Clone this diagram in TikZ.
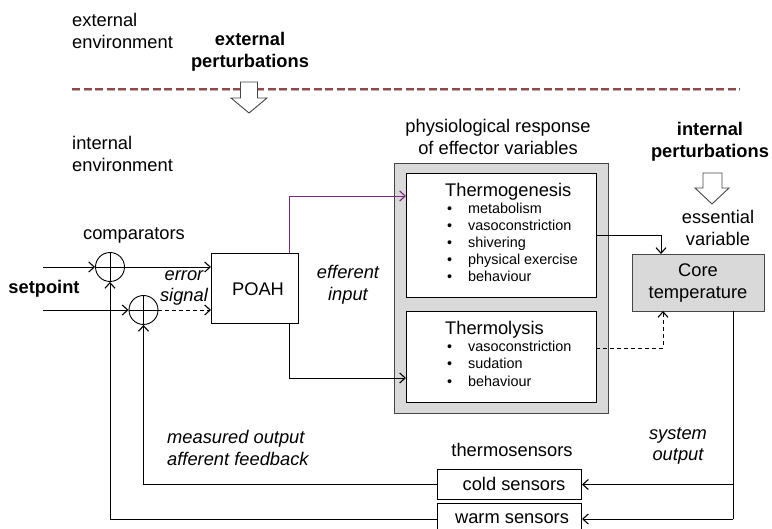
\documentclass[tikz,border=0pt]{standalone}
\usepackage{fontspec}
\setmainfont{Liberation Sans}
\usetikzlibrary{arrows.meta}
\definecolor{boxgray}{RGB}{217,217,217}
\definecolor{dashred}{RGB}{150,70,70}
\definecolor{purp}{RGB}{120,40,125}
\definecolor{edgegray}{RGB}{70,70,70}
\tikzset{
  txt/.style={font=\fontsize{18.3}{21.5}\selectfont, inner sep=0pt, align=center},
  btxt/.style={txt, font=\fontsize{18.3}{21.5}\selectfont\bfseries},
  itxt/.style={txt, font=\fontsize{18.3}{21.5}\selectfont\itshape},
  item/.style={font=\fontsize{14.4}{17}\selectfont, inner sep=0pt, anchor=west, text height=10pt, text depth=3pt},
  whitebox/.style={draw=black, line width=1.2pt, fill=white, anchor=north west, inner sep=0pt},
  graybox/.style={draw=edgegray, line width=1.2pt, fill=boxgray, anchor=north west, inner sep=0pt},
  comp/.style={circle, draw=black, line width=0.9pt, minimum size=29pt, inner sep=0pt},
  conn/.style={line width=0.9pt, -{Straight Barb[length=5.5pt,width=10pt,line width=1.1pt]}},
  plain/.style={line width=0.9pt},
  dashconn/.style={conn, dash pattern=on 4pt off 3pt},
  blockarrow/.style={draw=edgegray, fill=white, line width=0.9pt, line join=miter}
}
\begin{document}
\begin{tikzpicture}[x=1pt,y=-1pt]
\useasboundingbox (0,0) rectangle (772,529);
\clip (0,0) rectangle (772,529);

% top texts
\node[txt, anchor=west, align=left] (extenv) at (72,31) {external\\environment};
\node[btxt] (extpert) at (250,52) {external\\perturbations};
\node[txt, anchor=west, align=left] (intenv) at (72,154) {internal\\environment};

% dashed boundary
\coordinate (dl) at (72,89);
\coordinate (dr) at (740,89);
\draw[gray!60, line width=1.2pt, dash pattern=on 8pt off 3.5pt] ([yshift=-1.6pt]dl) -- ([yshift=-1.6pt]dr);
\draw[dashred, line width=1.3pt, dash pattern=on 8pt off 3.5pt] (dl) -- (dr);

% external perturbation arrow
\draw[blockarrow] (240.5,82) -- (257.5,82) -- (257.5,98) -- (267,98) -- (249,113) -- (231,98) -- (240.5,98) -- cycle;

% internal perturbations
\node[btxt] (intpert) at (710,142) {internal\\perturbations};
\draw[blockarrow] (703,173) -- (722,173) -- (722,188) -- (729,188) -- (712,204) -- (695,188) -- (703,188) -- cycle;
\node[txt] (essvar) at (718,228) {essential\\variable};

% physiological response
\node[txt] (physresp) at (498,137) {physiological response\\of effector variables};
\node[graybox, minimum width=214pt, minimum height=250pt] (outer) at (394,163) {};
\node[whitebox, minimum width=190pt, minimum height=124pt] (tg) at (406,173) {};
\node[whitebox, minimum width=190pt, minimum height=91pt] (tl) at (406,311) {};
\node[txt, anchor=west] (tgtitle) at (445,192) {Thermogenesis};
\foreach \t [count=\i] in {metabolism, vasoconstriction, shivering, physical exercise, behaviour}
  \node[item] (tgi\i) at (447,210+17*\i-17) {\makebox[21pt][l]{•}\t};
\node[txt, anchor=west] (tltitle) at (445,330) {Thermolysis};
\foreach \t [count=\i] in {vasoconstriction, sudation, behaviour}
  \node[item] (tli\i) at (447,348+17.5*\i-17.5) {\makebox[21pt][l]{•}\t};

% core temperature
\node[graybox, minimum width=132pt, minimum height=57pt] (core) at (632,254) {};
\node[txt] (coretxt) at (698,283) {Core\\temperature};

% comparators
\node[txt] (comparators) at (134,235) {comparators};
\node[comp] (c1) at (110,267) {};
\node[comp] (c2) at (143.5,310) {};
\draw[line width=0.9pt] (c1.north) -- (c1.south) (c1.west) -- (c1.east);
\draw[line width=0.9pt] (c2.north) -- (c2.south) (c2.west) -- (c2.east);
\node[btxt] (setpoint) at (44,289) {setpoint};
\coordinate (in1) at (43,267);
\coordinate (in2) at (43,310);
\draw[conn] (in1) -- (c1.west);
\draw[conn] (in2) -- (c2.west);

% POAH
\node[whitebox, minimum width=87pt, minimum height=70pt] (poah) at (211,253) {};
\node[txt] (poahtxt) at (258,289) {POAH};
\node[itxt] (errsig) at (184,288) {error\\signal};
\draw[conn] (c1.east) -- (c1.east -| poah.west);
\draw[dashconn] (c2.east) -- (c2.east -| poah.west);

% efferent
\node[itxt] (effinp) at (348,285) {efferent\\input};
\coordinate (pout1) at (289,253);
\coordinate (pout2) at (289,323);
\coordinate (tgin) at (406,196);
\coordinate (tlin) at (406,378);
\draw[conn, purp] (pout1) |- (tgin);
\draw[conn] (pout2) |- (tlin);

% effectors to core
\coordinate (tgout) at (596,235);
\coordinate (coretop) at (661,254);
\draw[conn] (tgout) -| (coretop);
\coordinate (tlout) at (596,348);
\coordinate (corebot) at (663,311);
\draw[dashconn] (tlout) -| (corebot);

% sensors
\node[txt] (thermosensors) at (512,450) {thermosensors};
\node[whitebox, line width=1pt, minimum width=144pt, minimum height=30pt] (cold) at (437,469) {};
\node[txt] (coldtxt) at (514,484) {cold sensors};
\node[whitebox, line width=1pt, minimum width=144pt, minimum height=32pt] (warm) at (437,503) {};
\node[txt] (warmtxt) at (512,519) {warm sensors};
\node[itxt] (sysout) at (678,446) {system\\output};
\node[itxt, anchor=west, align=left] (measured) at (167,448) {measured output\\afferent feedback};

\coordinate (coreout) at (733,311);
\coordinate (rbot) at (733,519);
\draw[plain] (coreout) -- (rbot);
\draw[conn] (rbot) -- (rbot -| warm.east);
\draw[conn] (cold.east -| coreout) -- (cold.east);

% feedback
\draw[conn] (cold.west) -| (c2.south);
\draw[conn] (warm.west) -| (c1.south);
\end{tikzpicture}
\end{document}
